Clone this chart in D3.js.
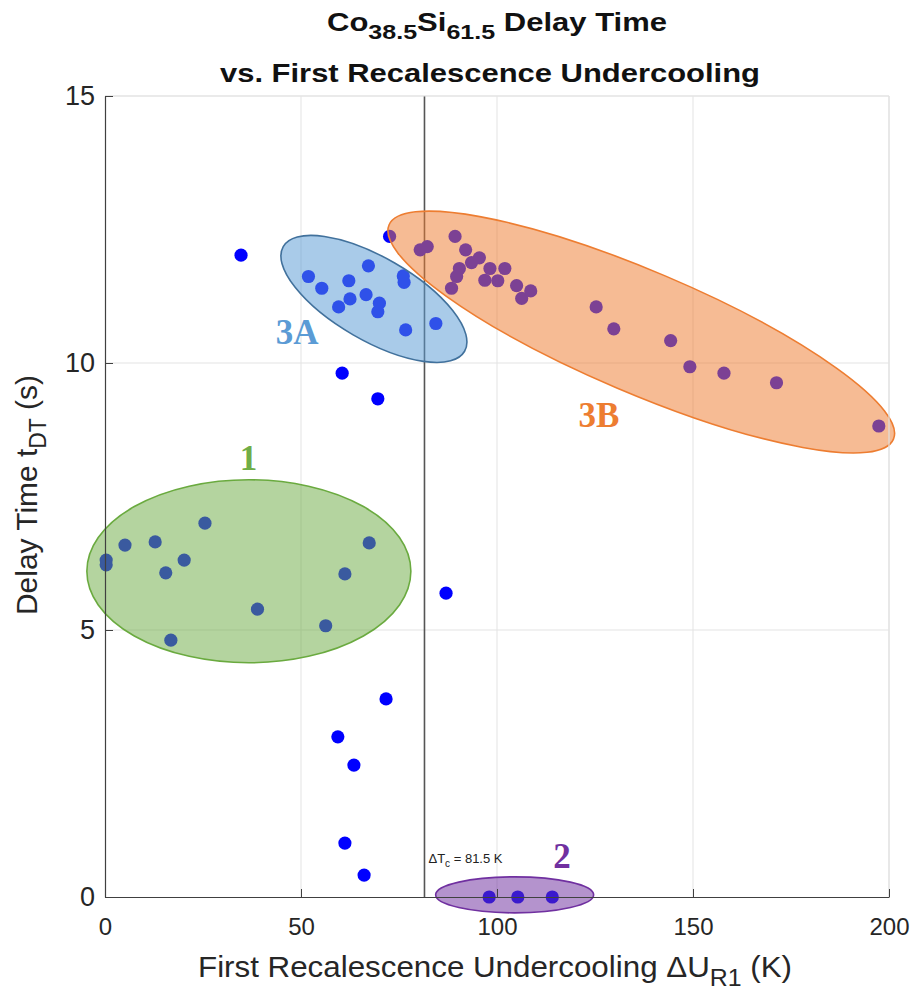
<!DOCTYPE html>
<html><head><meta charset="utf-8">
<script src="https://cdn.jsdelivr.net/npm/d3@7/dist/d3.min.js"></script>
<style>
html,body{margin:0;padding:0;background:#fff;}
svg{display:block;font-family:"Liberation Sans",Arial,sans-serif;}
</style></head>
<body><svg id="chart" width="911" height="993"></svg>
<script>
// ---- data ----
const xTicks = [0, 50, 100, 150, 200];
const yTicks = [0, 5, 10, 15];
const criticalUndercooling = 81.5;

// all measured samples (undercooling K, delay time s)
const undercooling = [
  // outside groups
  34.7, 72.6, 60.5, 69.6, 87.0, 71.7, 59.4, 63.5, 61.2, 66.1,
  // group 3A
  51.9, 55.3, 62.2, 67.2, 62.5, 59.6, 66.6, 70.0, 69.6, 76.1, 76.3, 76.7, 84.4,
  // group 3B
  80.4, 82.2, 89.3, 92.0, 95.5, 93.5, 90.4, 89.7, 88.4, 98.2, 102.0, 96.9, 100.2, 105.0, 108.6, 106.3,
  125.3, 129.8, 144.3, 149.2, 157.9, 171.3, 197.4,
  // group 1
  0.3, 0.3, 5.1, 12.8, 25.5, 20.2, 15.5, 38.9, 16.8, 67.4, 61.2, 56.3,
  // group 2
  98.0, 105.3, 114.1
];
const delayTime = [
  12.02, 12.37, 9.81, 9.33, 5.69, 3.71, 3.00, 2.47, 1.01, 0.41,
  11.62, 11.40, 11.54, 11.82, 11.20, 11.05, 11.28, 11.12, 10.96, 11.63, 11.51, 10.62, 10.74,
  12.12, 12.18, 12.37, 12.12, 11.97, 11.88, 11.77, 11.62, 11.40, 11.77, 11.77, 11.55, 11.54, 11.45, 11.35, 11.21,
  11.05, 10.64, 10.42, 9.93, 9.81, 9.63, 8.82,
  6.31, 6.22, 6.59, 6.65, 7.00, 6.31, 6.07, 5.39, 4.81, 6.63, 6.05, 5.08,
  0, 0, 0
];

// group annotations (centre and label position in data units)
const groupNames = ["1", "2", "3A", "3B"];
const groupCentreX = [36.7, 104.5, 68.6, 136.8];
const groupCentreY = [6.1, 0.04, 11.2, 10.58];
const groupLabelX = [36.6, 116.6, 49.0, 126.0];
const groupLabelY = [8.0, 0.54, 10.36, 8.80];

// ---- layout / style ----
const W = 911, H = 993;
const m = {left: 105, right: 22, top: 96, bottom: 96};
const iw = W - m.left - m.right, ih = H - m.top - m.bottom;
const groupStyle = {
  "1":  {fill: "#70AD47", stroke: "#6AAA3F", rx: 162, ry: 91.5, rot: 0, text: "#70AD47"},
  "2":  {fill: "#7030A0", stroke: "#7030A0", rx: 79, ry: 18, rot: 0, text: "#7030A0"},
  "3A": {fill: "#5B9BD5", stroke: "#41719C", rx: 104.7, ry: 41.5, rot: 30, text: "#5B9BD5"},
  "3B": {fill: "#ED7D31", stroke: "#ED7D31", rx: 274, ry: 61, rot: 23, text: "#ED7D31"}
};

const svg = d3.select("#chart");
const x = d3.scaleLinear().domain([0, 200]).range([m.left, m.left + iw]);
const y = d3.scaleLinear().domain([0, 15]).range([m.top + ih, m.top]);

// grid
const grid = svg.append("g");
grid.selectAll(".gx").data(xTicks.filter(d => d > 0)).join("line")
  .attr("x1", d => x(d)).attr("x2", d => x(d)).attr("y1", y(0)).attr("y2", y(15))
  .attr("stroke", "#e3e3e3").attr("stroke-width", 1);
grid.selectAll(".gy").data(yTicks.filter(d => d > 0)).join("line")
  .attr("x1", x(0)).attr("x2", x(200)).attr("y1", d => y(d)).attr("y2", d => y(d))
  .attr("stroke", "#e3e3e3").attr("stroke-width", 1);

// critical undercooling line
svg.append("line")
  .attr("x1", x(criticalUndercooling)).attr("x2", x(criticalUndercooling))
  .attr("y1", y(0)).attr("y2", y(15))
  .attr("stroke", "#555").attr("stroke-width", 1.6);

// points
const pts = undercooling.map((u, i) => ({u, t: delayTime[i]}));
svg.append("g").selectAll("circle").data(pts).join("circle")
  .attr("cx", d => x(d.u)).attr("cy", d => y(d.t)).attr("r", 6.6)
  .attr("fill", "#0000FF");

// group ellipses
const groups = groupNames.map((n, i) => ({n, cx: groupCentreX[i], cy: groupCentreY[i], lx: groupLabelX[i], ly: groupLabelY[i]}));
svg.append("g").selectAll("ellipse").data(groups).join("ellipse")
  .attr("transform", d => `translate(${x(d.cx)},${y(d.cy)}) rotate(${groupStyle[d.n].rot})`)
  .attr("rx", d => groupStyle[d.n].rx).attr("ry", d => groupStyle[d.n].ry)
  .attr("fill", d => groupStyle[d.n].fill).attr("fill-opacity", 0.52)
  .attr("stroke", d => groupStyle[d.n].stroke).attr("stroke-width", 1.6);

// axes lines (left & bottom dark, top & right light)
svg.append("line").attr("x1", x(0)).attr("x2", x(200)).attr("y1", y(15)).attr("y2", y(15))
  .attr("stroke", "#e3e3e3").attr("stroke-width", 1.2);
svg.append("line").attr("x1", x(200)).attr("x2", x(200)).attr("y1", y(0)).attr("y2", y(15))
  .attr("stroke", "#e3e3e3").attr("stroke-width", 1.2);

const xAxis = d3.axisBottom(x).tickValues(xTicks).tickSizeInner(-8).tickSizeOuter(0).tickPadding(21);
const gx = svg.append("g").attr("transform", `translate(0,${y(0)})`).call(xAxis);
gx.select(".domain").attr("stroke", "#404040").attr("stroke-width", 1.2);
gx.selectAll(".tick line").attr("stroke", "#404040");
gx.selectAll(".tick text").attr("font-size", 24).attr("fill", "#262626")
  .attr("font-family", "Liberation Sans, Arial, sans-serif");

const yAxis = d3.axisLeft(y).tickValues(yTicks).tickSizeInner(-8).tickSizeOuter(0).tickPadding(10);
const gy = svg.append("g").attr("transform", `translate(${x(0)},0)`).call(yAxis);
gy.select(".domain").attr("stroke", "#404040").attr("stroke-width", 1.2);
gy.selectAll(".tick line").attr("stroke", "#404040");
gy.selectAll(".tick text").attr("font-size", 27).attr("fill", "#262626")
  .attr("font-family", "Liberation Sans, Arial, sans-serif");

// group labels
svg.append("g").selectAll("text").data(groups).join("text")
  .attr("x", d => x(d.lx)).attr("y", d => y(d.ly))
  .attr("text-anchor", "middle")
  .attr("font-family", "Liberation Serif, Times New Roman, serif")
  .attr("font-weight", "bold").attr("font-size", 35)
  .attr("fill", d => groupStyle[d.n].text)
  .text(d => d.n);

// critical undercooling annotation
const ann = svg.append("text").attr("x", x(criticalUndercooling) + 4).attr("y", 863)
  .attr("font-size", 13).attr("fill", "#222");
ann.append("tspan").text("ΔT");
ann.append("tspan").attr("font-size", 10).attr("dy", 4).text("c");
ann.append("tspan").attr("dy", -4).text(" = " + criticalUndercooling + " K");

// title
const t1 = svg.append("text").attr("x", 327).attr("y", 31)
  .attr("font-weight", "bold").attr("font-size", 26).attr("fill", "#111")
  .attr("textLength", 340).attr("lengthAdjust", "spacingAndGlyphs");
t1.append("tspan").text("Co");
t1.append("tspan").attr("font-size", 21).attr("dy", 8).text("38.5");
t1.append("tspan").attr("dy", -8).text("Si");
t1.append("tspan").attr("font-size", 21).attr("dy", 8).text("61.5");
t1.append("tspan").attr("dy", -8).text(" Delay Time");
svg.append("text").attr("x", 220).attr("y", 82)
  .attr("font-weight", "bold").attr("font-size", 26).attr("fill", "#111")
  .attr("textLength", 540).attr("lengthAdjust", "spacingAndGlyphs")
  .text("vs. First Recalescence Undercooling");

// x label
const xl = svg.append("text").attr("x", 198).attr("y", 977)
  .attr("font-size", 29).attr("fill", "#262626")
  .attr("textLength", 594).attr("lengthAdjust", "spacingAndGlyphs");
xl.append("tspan").text("First Recalescence Undercooling ΔU");
xl.append("tspan").attr("font-size", 23).attr("dy", 9).text("R1");
xl.append("tspan").attr("dy", -9).text(" (K)");

// y label
const yl = svg.append("text").attr("transform", `translate(37,615) rotate(-90)`)
  .attr("font-size", 30).attr("fill", "#262626")
  .attr("textLength", 240).attr("lengthAdjust", "spacingAndGlyphs");
yl.append("tspan").text("Delay Time t");
yl.append("tspan").attr("font-size", 23).attr("dy", 9).text("DT");
yl.append("tspan").attr("dy", -9).text(" (s)");
</script></body></html>
